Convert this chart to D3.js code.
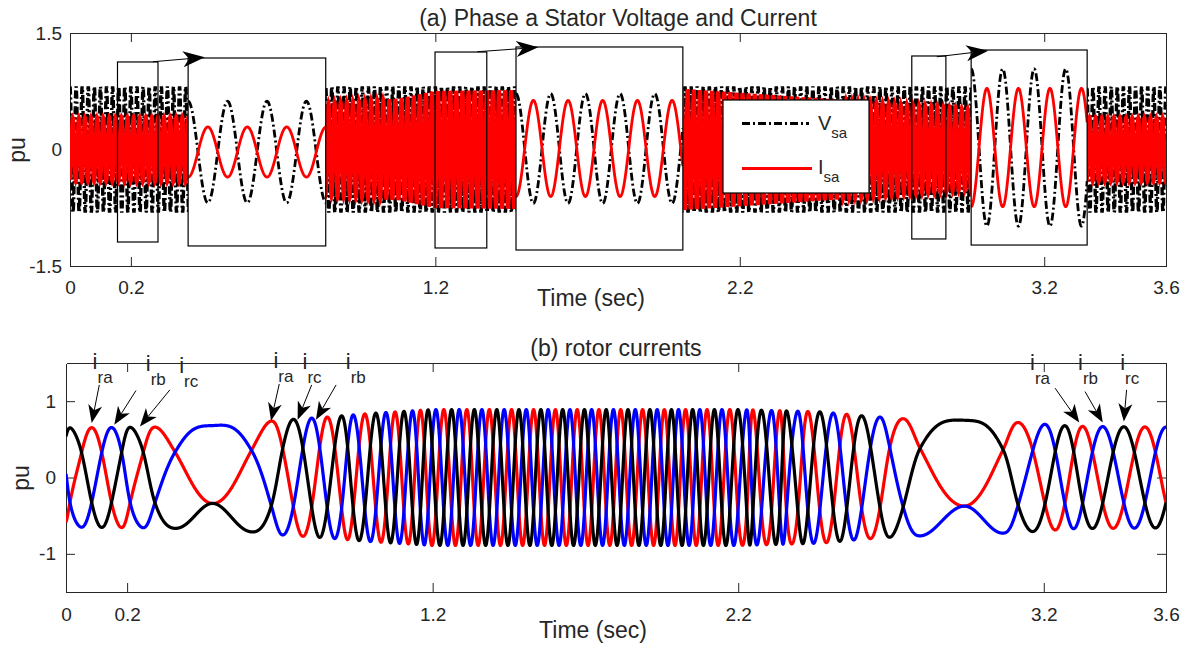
<!DOCTYPE html>
<html><head><meta charset="utf-8">
<script src="https://cdn.jsdelivr.net/npm/d3@7"></script>
<style>
body{margin:0;background:#fff}
svg{display:block}
text{font-family:"Liberation Sans",Arial,Helvetica,sans-serif;fill:#262626}
</style>
</head><body>
<svg id="c" width="1190" height="650"></svg>
<script>
// ================= DATA =================
const xTickVals = [0, 0.2, 1.2, 2.2, 3.2, 3.6];
const yTicksA = [-1.5, 0, 1.5];
const yTicksB = [-1, 0, 1];
const gridFreq = 50;                 // Hz, stator quantities
const vsaAmp = 0.81;                 // pu, stator voltage amplitude
// stator current envelope (time s, amplitude pu)
const isaEnvT = [0, 0.39, 0.84, 1.08, 1.2, 1.45, 2.0, 2.96, 3.34, 3.6];
const isaEnvA = [0.41, 0.42, 0.60, 0.65, 0.75, 0.76, 0.78, 0.52, 0.41, 0.41];

// zoom-in insets of panel (a)
const insetT0 = [0.388, 1.465, 2.960];
const insetT1 = [0.840, 2.013, 3.341];
const insetTop = [1.178, 1.320, 1.281];
const insetBot = [-1.242, -1.294, -1.230];
const insetCycles = [3.49, 4.81, 3.68];
const insetVAmp = [0.81, 0.81, 1.21];
const insetIAmp = [0.40, 0.71, 0.91];
const zoomT0 = [0.156, 1.199, 2.765];
const zoomT1 = [0.289, 1.369, 2.877];
const zoomTop = [1.127, 1.255, 1.204];
const zoomBot = [-1.191, -1.268, -1.152];
const arrowAStart = [[0.272, 1.130], [1.338, 1.259], [2.847, 1.194]];
const arrowATip   = [[0.443, 1.187], [1.538, 1.315], [3.016, 1.272]];

// rotor currents: electrical angle of i_rc (cycles) at peak / trough instants
const rotPhaseT = [0, 0.013, 0.051, 0.084, 0.117, 0.149, 0.182, 0.21, 0.253, 0.291, 0.357, 0.48,
  0.607, 0.672, 0.709, 0.744, 0.804, 0.855, 0.902, 0.940, 0.978, 1.014, 1.047, 1.077, 1.106, 1.134,
  1.160, 1.185, 1.262, 1.911, 2.199, 2.228, 2.248, 2.276, 2.309, 2.336, 2.358, 2.395, 2.428, 2.467,
  2.511, 2.555, 2.604, 2.664, 2.696, 2.740, 2.795, 2.940, 3.067, 3.116, 3.164, 3.204, 3.269, 3.327,
  3.393, 3.462, 3.531, 3.600];
const rotPhase = [-0.095, 0, 0.167, 0.333, 0.5, 0.667, 0.833, 1, 1.167, 1.333, 1.5, 1.667,
  1.5, 1.333, 1.167, 1, 0.667, 0.333, 0, -0.333, -0.667, -1, -1.333, -1.667, -2, -2.333,
  -2.667, -3, -4, -13, -17, -17.333, -17.667, -18, -18.333, -18.667, -19, -19.333, -19.667, -20,
  -20.333, -20.667, -21, -21.333, -21.5, -21.667, -21.833, -22, -21.833, -21.667, -21.5, -21.333, -21, -20.667,
  -20.333, -20, -19.667, -19.333];
const rotAmpT = [0, 0.3, 0.48, 0.6, 0.7, 0.85, 1.0, 1.2, 2.2, 2.47, 2.6, 2.74, 2.94, 3.12, 3.3, 3.6];
const rotAmp  = [0.65, 0.66, 0.68, 0.71, 0.75, 0.79, 0.84, 0.89, 0.89, 0.86, 0.81, 0.77, 0.75, 0.72, 0.67, 0.66];
const rotNames = ["ra", "rb", "rc"];
const rotShift = [1/3, 2/3, 0];      // phase lag (cycles) relative to i_rc
const rotColors = ["#ff0000", "#0000ff", "#000000"];

// labels / arrows of panel (b) in data units
const labSub = ["ra","rb","rc","ra","rc","rb","ra","rb","rc"];
const labT = [0.0870, 0.2610, 0.3705, 0.6790, 0.7740, 0.9155, 3.155, 3.312, 3.450];
const labV = [1.417, 1.39, 1.365, 1.44, 1.417, 1.417, 1.405, 1.405, 1.405];
const arrBStart = [[0.109,1.213],[0.229,1.139],[0.340,1.148],[0.698,1.226],[0.804,1.213],[0.884,1.213],[3.237,1.170],[3.335,1.126],[3.471,1.148]];
const arrBTip   = [[0.084,0.713],[0.158,0.691],[0.242,0.669],[0.671,0.743],[0.758,0.756],[0.818,0.756],[3.316,0.721],[3.393,0.721],[3.462,0.734]];

// ================= HELPERS =================
function monotone(xs, ys) {
  const n = xs.length, d = [], m = new Array(n);
  for (let i = 0; i < n - 1; i++) d.push((ys[i+1]-ys[i])/(xs[i+1]-xs[i]));
  m[0] = d[0]; m[n-1] = d[n-2];
  for (let i = 1; i < n - 1; i++) {
    if (d[i-1]*d[i] <= 0) m[i] = 0;
    else { const h0 = xs[i]-xs[i-1], h1 = xs[i+1]-xs[i], w1 = 2*h1+h0, w2 = h1+2*h0;
      m[i] = (w1+w2)/(w1/d[i-1]+w2/d[i]); }
  }
  return t => {
    let i = Math.max(0, Math.min(n-2, d3.bisectRight(xs, t)-1));
    const h = xs[i+1]-xs[i], s = (t-xs[i])/h, s2 = s*s, s3 = s2*s;
    return (2*s3-3*s2+1)*ys[i] + (s3-2*s2+s)*h*m[i] + (-2*s3+3*s2)*ys[i+1] + (s3-s2)*h*m[i+1];
  };
}
const svg = d3.select("#c");
const FS_TICK = 19, FS_LAB = 23;

function drawAxes(g, x, y, yTicks, xPad, yPad) {
  const fmt = d => String(d);
  const [x0, x1] = x.range(), [yb, yt] = y.range();
  const style = a => {
    a.selectAll("path.domain").attr("stroke", "#262626");
    a.selectAll(".tick line").attr("stroke", "#262626");
    a.selectAll(".tick text").style("font-size", FS_TICK + "px").attr("fill", "#262626").style("font-family", "'Liberation Sans',Arial,sans-serif");
  };
  g.append("g").attr("transform", `translate(0,${yb})`)
    .call(d3.axisBottom(x).tickValues(xTickVals).tickFormat(fmt).tickSizeInner(-9).tickSizeOuter(0).tickPadding(xPad)).call(style);
  g.append("g").attr("transform", `translate(0,${yt})`)
    .call(d3.axisTop(x).tickValues(xTickVals.slice(1, -1)).tickFormat("").tickSizeInner(-9).tickSizeOuter(0)).call(style);
  g.append("g").attr("transform", `translate(${x0},0)`)
    .call(d3.axisLeft(y).tickValues(yTicks).tickFormat(fmt).tickSizeInner(-9).tickSizeOuter(0).tickPadding(yPad)).call(style);
  g.append("g").attr("transform", `translate(${x1},0)`)
    .call(d3.axisRight(y).tickValues(yTicks).tickFormat("").tickSizeInner(-9).tickSizeOuter(0)).call(style);
  g.selectAll("path.domain").attr("shape-rendering", "crispEdges");
}

function arrowHead(g, p0, p1, L, Wd, lw) {
  const dx = p1[0]-p0[0], dy = p1[1]-p0[1], len = Math.hypot(dx, dy);
  const ux = dx/len, uy = dy/len, nx = -uy, ny = ux;
  const N = [p1[0]-0.72*L*ux, p1[1]-0.72*L*uy];
  g.append("line").attr("x1", p0[0]).attr("y1", p0[1]).attr("x2", N[0]).attr("y2", N[1])
    .attr("stroke", "#000").attr("stroke-width", lw);
  const pts = [p1, [p1[0]-L*ux+Wd/2*nx, p1[1]-L*uy+Wd/2*ny], N, [p1[0]-L*ux-Wd/2*nx, p1[1]-L*uy-Wd/2*ny]];
  g.append("path").attr("d", "M" + pts.map(p => p.join(",")).join("L") + "Z").attr("fill", "#000");
}

// ================= PANEL (a) =================
const xA = d3.scaleLinear().domain([0, 3.6]).range([70, 1166]);
const yA = d3.scaleLinear().domain([-1.5, 1.5]).range([266, 33]);
const gA = svg.append("g");
drawAxes(gA, xA, yA, yTicksA, 15, 8);

svg.append("defs").append("clipPath").attr("id", "clipA").append("rect")
  .attr("x", 70).attr("y", 33).attr("width", 1096).attr("height", 233);

const tGrid = d3.range(0, 3.6 + 1e-9, 0.0005);
const envI = d3.scaleLinear().domain(isaEnvT).range(isaEnvA);
const lineA = d3.line().x(d => xA(d[0])).y(d => yA(d[1]));
const vsa = tGrid.map(t => [t, vsaAmp * Math.cos(2*Math.PI*gridFreq*t)]);
const isa = tGrid.map(t => [t, -envI(t) * Math.cos(2*Math.PI*gridFreq*t + 0.3)]);
const dataA = gA.append("g").attr("clip-path", "url(#clipA)");
dataA.append("path").attr("d", lineA(vsa)).attr("fill", "none").attr("stroke", "#000")
  .attr("stroke-width", 3.4).attr("stroke-dasharray", "8,3,2,3");
dataA.append("path").attr("d", lineA(isa)).attr("fill", "none").attr("stroke", "#ff0000")
  .attr("stroke-width", 4);

// zoom boxes, insets, arrows
insetT0.forEach((t0, k) => {
  gA.append("rect").attr("x", xA(zoomT0[k])).attr("y", yA(zoomTop[k]))
    .attr("width", xA(zoomT1[k]) - xA(zoomT0[k])).attr("height", yA(zoomBot[k]) - yA(zoomTop[k]))
    .attr("fill", "none").attr("stroke", "#000").attr("stroke-width", 1.2);
  const bx0 = xA(t0), bx1 = xA(insetT1[k]), by0 = yA(insetTop[k]), by1 = yA(insetBot[k]);
  gA.append("rect").attr("x", bx0).attr("y", by0).attr("width", bx1 - bx0).attr("height", by1 - by0)
    .attr("fill", "#fff").attr("stroke", "none");
  const cid = "clipI" + k;
  svg.select("defs").append("clipPath").attr("id", cid).append("rect")
    .attr("x", bx0).attr("y", by0).attr("width", bx1 - bx0).attr("height", by1 - by0);
  const dur = insetCycles[k] / gridFreq;
  const xi = d3.scaleLinear().domain([0, dur]).range([bx0, bx1]);
  const yi = d3.scaleLinear().domain([-1.5, 1.5]).range([by1, by0]);
  const ts = d3.range(0, dur + 1e-9, dur / 600);
  const li = d3.line().x(d => xi(d[0])).y(d => yi(d[1]));
  const gi = gA.append("g").attr("clip-path", `url(#${cid})`);
  gi.append("path").attr("d", li(ts.map(t => [t, insetVAmp[k] * Math.cos(2*Math.PI*gridFreq*t)])))
    .attr("fill", "none").attr("stroke", "#000").attr("stroke-width", 2.8).attr("stroke-dasharray", "8,3,2,3");
  gi.append("path").attr("d", li(ts.map(t => [t, -insetIAmp[k] * Math.cos(2*Math.PI*gridFreq*t)])))
    .attr("fill", "none").attr("stroke", "#ff0000").attr("stroke-width", 2.8);
  gA.append("rect").attr("x", bx0).attr("y", by0).attr("width", bx1 - bx0).attr("height", by1 - by0)
    .attr("fill", "none").attr("stroke", "#000").attr("stroke-width", 1.2);
  arrowHead(gA, [xA(arrowAStart[k][0]), yA(arrowAStart[k][1])], [xA(arrowATip[k][0]), yA(arrowATip[k][1])], 22, 16, 1);
});

// legend
const lg = gA.append("g").attr("transform", "translate(723,100)");
lg.append("rect").attr("width", 146).attr("height", 93).attr("fill", "#fff").attr("stroke", "#000").attr("stroke-width", 1.2);
lg.append("line").attr("x1", 19).attr("x2", 86).attr("y1", 23.5).attr("y2", 23.5)
  .attr("stroke", "#000").attr("stroke-width", 2.8).attr("stroke-dasharray", "8,3,2,3");
lg.append("line").attr("x1", 19).attr("x2", 89).attr("y1", 68.5).attr("y2", 68.5)
  .attr("stroke", "#ff0000").attr("stroke-width", 2.8);
[["V", 29.5], ["I", 73.5]].forEach(([s, yb]) => {
  const tx = lg.append("text").attr("x", 95).attr("y", yb).style("font-size", "20px");
  tx.append("tspan").text(s);
  tx.append("tspan").attr("dy", 8.5).style("font-size", "15px").text("sa");
});

gA.append("text").attr("x", 618).attr("y", 26).attr("text-anchor", "middle")
  .style("font-size", FS_LAB + "px").text("(a) Phase a Stator Voltage and Current");
gA.append("text").attr("x", 591).attr("y", 306).attr("text-anchor", "middle")
  .style("font-size", FS_LAB + "px").text("Time (sec)");
gA.append("text").attr("transform", "translate(25,150) rotate(-90)").attr("text-anchor", "middle")
  .style("font-size", FS_LAB + "px").text("pu");

// ================= PANEL (b) =================
const xB = d3.scaleLinear().domain([0, 3.6]).range([66, 1166]);
const yB = d3.scaleLinear().domain([-1.5, 1.5]).range([592, 363]);
const gB = svg.append("g");
drawAxes(gB, xB, yB, yTicksB, 16, 10);
svg.select("defs").append("clipPath").attr("id", "clipB").append("rect")
  .attr("x", 66).attr("y", 363).attr("width", 1100).attr("height", 229);

const phaseFn = monotone(rotPhaseT, rotPhase);
const ampFn = d3.scaleLinear().domain(rotAmpT).range(rotAmp);
const lineB = d3.line().x(d => xB(d[0])).y(d => yB(d[1]));
const dataB = gB.append("g").attr("clip-path", "url(#clipB)");
rotNames.forEach((nm, k) => {
  const pts = tGrid.map(t => [t, ampFn(t) * Math.cos(2*Math.PI*(phaseFn(t) - rotShift[k]))]);
  dataB.append("path").attr("d", lineB(pts)).attr("fill", "none").attr("stroke", rotColors[k])
    .attr("stroke-width", 3.2).attr("stroke-linejoin", "round");
});

labSub.forEach((s, k) => {
  const tx = gB.append("text").attr("x", xB(labT[k])).attr("y", yB(labV[k])).style("font-size", "22px");
  tx.append("tspan").text("i");
  tx.append("tspan").attr("dy", 14).style("font-size", "17px").text(s);
  arrowHead(gB, [xB(arrBStart[k][0]), yB(arrBStart[k][1])], [xB(arrBTip[k][0]), yB(arrBTip[k][1])], 18, 14, 1);
});

gB.append("text").attr("x", 616).attr("y", 356).attr("text-anchor", "middle")
  .style("font-size", FS_LAB + "px").text("(b) rotor currents");
gB.append("text").attr("x", 593).attr("y", 638).attr("text-anchor", "middle")
  .style("font-size", FS_LAB + "px").text("Time (sec)");
gB.append("text").attr("transform", "translate(29,478) rotate(-90)").attr("text-anchor", "middle")
  .style("font-size", FS_LAB + "px").text("pu");
</script>
</body></html>
